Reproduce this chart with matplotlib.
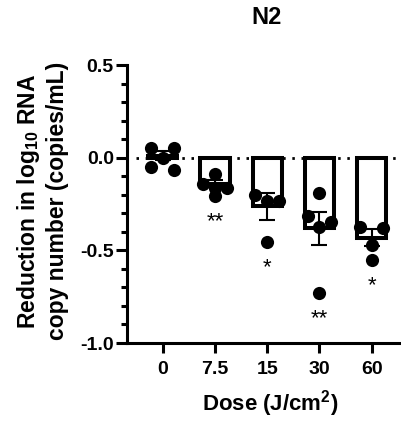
import numpy as np
import matplotlib
matplotlib.use("Agg")
import matplotlib.pyplot as plt
from matplotlib.ticker import MultipleLocator

plt.rcParams['font.family'] = ['Liberation Sans', 'DejaVu Sans']
plt.rcParams['font.weight'] = 'bold'
plt.rcParams['mathtext.fontset'] = 'custom'
plt.rcParams['mathtext.rm'] = 'Liberation Sans:bold'
plt.rcParams['mathtext.default'] = 'rm'

# ---- data ----
doses = ["0", "7.5", "15", "30", "60"]
pts_0 = [0.05, 0.05, 0.0, -0.048, -0.066]
pts_75 = [-0.09, -0.144, -0.165, -0.165, -0.207]
pts_15 = [-0.201, -0.232, -0.232, -0.453]
pts_30 = [-0.189, -0.315, -0.345, -0.372, -0.728]
pts_60 = [-0.372, -0.381, -0.471, -0.552]
means = [0.01, -0.14, -0.262, -0.382, -0.432]
sems = [0.025, 0.02, 0.072, 0.09, 0.045]
stars = ["", "**", "*", "**", "*"]

points = [pts_0, pts_75, pts_15, pts_30, pts_60]

W, H = 402, 423
fig = plt.figure(figsize=(W / 100, H / 100), dpi=100)
ax_l, ax_r, ax_t, ax_b = 127, 400, 65, 343
ax = fig.add_axes([ax_l / W, 1 - ax_b / H, (ax_r - ax_l) / W, (ax_b - ax_t) / H])
xmin, xmax = -0.68, 4.54
ax.set_xlim(xmin, xmax)
ax.set_ylim(-1.0, 0.5)

x = np.arange(len(doses))
ax.hlines(0, -0.5, xmax, color='black', lw=2.0, linestyles=[(0, (0.9, 2.4))], zorder=1)
ax.bar(x, means, width=0.56, facecolor='white', edgecolor='black', linewidth=2.9, zorder=2)
ax.errorbar(x, means, yerr=sems, fmt='none', ecolor='black', elinewidth=1.5,
            capsize=6, capthick=1.5, zorder=3)

# scatter offsets: points grouped into rows of similar value, spread horizontally
px_per_x = (ax_r - ax_l) / (xmax - xmin)
spacing = 11.7 / px_per_x
row_tol = 0.04

def row_offsets(vals):
    order = np.argsort(vals)[::-1]
    rows, cur = [], [order[0]]
    for a, b in zip(order[:-1], order[1:]):
        if abs(vals[a] - vals[b]) <= row_tol:
            cur.append(b)
        else:
            rows.append(cur)
            cur = [b]
    rows.append(cur)
    patterns = {1: [0], 2: [-1, 1], 3: [-1, 1, 0], 4: [-1.5, 1.5, -0.5, 0.5]}
    offs = np.zeros(len(vals))
    for r in rows:
        for k, idx in enumerate(r):
            offs[idx] = patterns[len(r)][k] * spacing
    return offs

for i, vals in enumerate(points):
    offs = row_offsets(vals)
    ax.scatter(i + offs, vals, s=90, color='black', zorder=4, linewidths=0)
    if stars[i]:
        ax.text(i, min(vals) - 0.17, stars[i], ha='center', va='baseline',
                fontsize=16, fontweight='normal')

for s in ['top', 'right']:
    ax.spines[s].set_visible(False)
for s in ['left', 'bottom']:
    ax.spines[s].set_linewidth(2.2)

ax.set_xticks(x)
ax.set_xticklabels(doses)
ax.set_yticks([0.5, 0.0, -0.5, -1.0])
ax.set_yticklabels(["0.5", "0.0", "-0.5", "-1.0"])
ax.yaxis.set_minor_locator(MultipleLocator(0.1))
ax.tick_params(axis='both', which='major', direction='out', length=8, width=2.2, labelsize=14)
ax.tick_params(axis='y', which='major', pad=1.5)
ax.tick_params(axis='y', which='minor', direction='out', length=4.5, width=2.2)
ax.tick_params(axis='x', which='major', pad=6, length=7)

fig.text(42 / W, 1 - 201 / H, "Reduction in log$_{10}$ RNA\ncopy number (copies/mL)",
         rotation=90, ha='center', va='center', fontsize=16.5, fontweight='bold',
         linespacing=1.25, multialignment='center')
fig.text(270 / W, 1 - 410 / H, "Dose (J/cm$^2$)", ha='center', va='baseline',
         fontsize=16, fontweight='bold')
fig.text(267 / W, 1 - 18 / H, "N2", ha='center', va='center', fontsize=17, fontweight='bold')

fig.savefig("out.png", dpi=100)
